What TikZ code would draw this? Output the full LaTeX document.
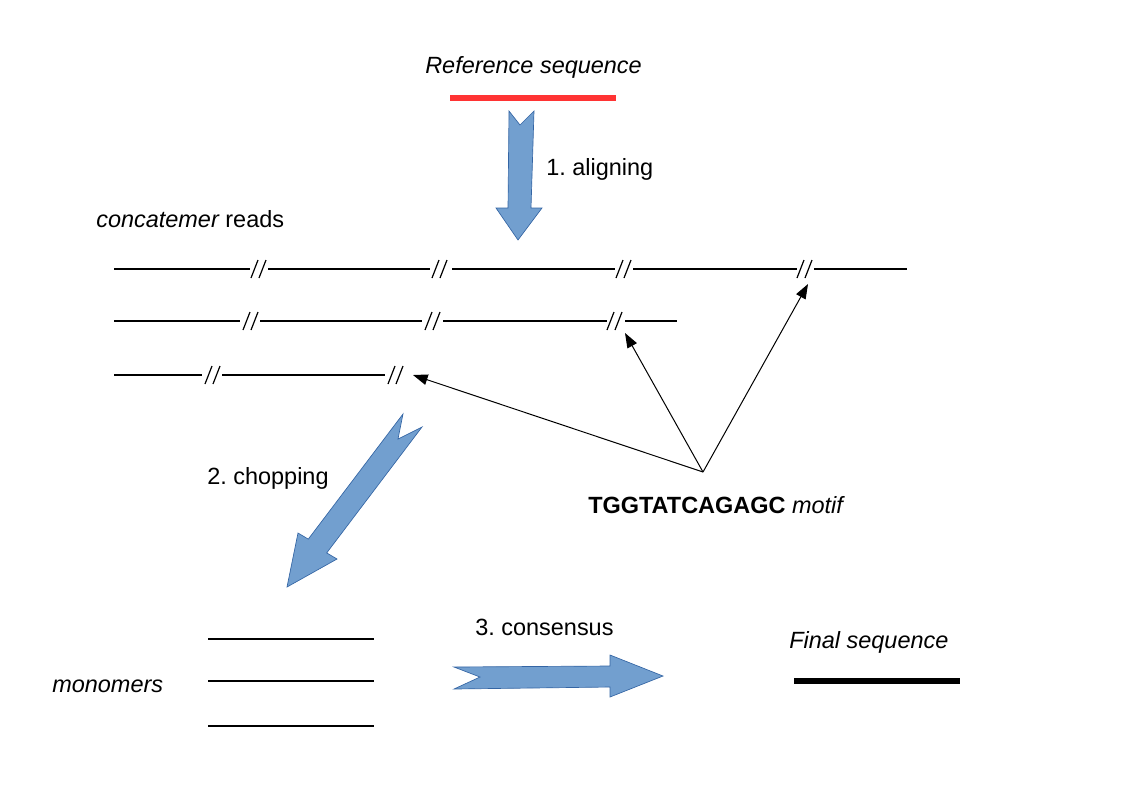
\documentclass[tikz,border=0pt]{standalone}
\usepackage{fontspec}
\setmainfont{Liberation Sans}
\usetikzlibrary{arrows.meta}

\definecolor{arrowblue}{RGB}{114,159,207}
\definecolor{arrowedge}{RGB}{52,101,164}
\definecolor{refred}{RGB}{255,51,51}

\tikzset{
	txt/.style={anchor=base west, inner sep=0pt, font=\fontsize{17.6}{21}\selectfont\frenchspacing},
	read/.style={line width=1.5pt},
	cut/.pic={
		\draw[line width=0.9pt] (-8,9) -- (-1,-9);
		\draw[line width=0.9pt] (0,9) -- (7,-9);
	},
	fat/.style={fill=arrowblue, draw=arrowedge, line width=0.5pt},
	pointer/.style={-{Triangle[length=11pt,width=8pt]}, line width=0.75pt}
}

\begin{document}
\begin{tikzpicture}[x=0.75pt, y=-0.75pt]
	\useasboundingbox (0,0) rectangle (1123,794);

	% Define nodes
	\node [txt] (ref) at (425,73) {\itshape Reference sequence};
	\node [txt] (align) at (546,175) {1. aligning};
	\node [txt] (reads) at (96,227) {\itshape concatemer\upshape\ reads};
	\node [txt] (chop) at (207,484) {2. chopping};
	\node [txt] (motif) at (588,513) {\bfseries TGGTATCAGAGC \mdseries\itshape motif};
	\node [txt] (cons) at (475,635) {3. consensus};
	\node [txt] (mono) at (52,692) {\itshape monomers};
	\node [txt] (final) at (789,648) {\itshape Final sequence};

	% Reference and final sequence
	\draw [refred, line width=5pt] (450,98) -- (616,98);
	\draw [line width=5pt] (794,681) -- (960,681);

	% Concatemer reads
	\draw [read] (114,269) -- (250,269);
	\draw [read] (268,269) -- (430,269);
	\draw [read] (452,269) -- (615,269);
	\draw [read] (633,269) -- (797,269);
	\draw [read] (814,269) -- (907,269);
	\pic at (259,269) {cut};
	\pic at (440,269) {cut};
	\pic at (624,269) {cut};
	\pic at (805,269) {cut};

	\draw [read] (114,321) -- (240,321);
	\draw [read] (260,321) -- (422,321);
	\draw [read] (443,321) -- (607,321);
	\draw [read] (625,321) -- (677,321);
	\pic at (251,321) {cut};
	\pic at (433,321) {cut};
	\pic at (615,321) {cut};

	\draw [read] (114,375) -- (202,375);
	\draw [read] (222,375) -- (385,375);
	\pic at (213,375) {cut};
	\pic at (396,375) {cut};

	% Monomers
	\draw [read] (208,639) -- (374,639);
	\draw [read] (208,681) -- (374,681);
	\draw [read] (208,726) -- (374,726);

	% Motif pointers
	\coordinate (m) at (703,472);
	\coordinate (k1) at (808,284);
	\coordinate (k2) at (625,333);
	\coordinate (k3) at (413,375);
	\draw [pointer] (m) -- (k1);
	\draw [pointer] (m) -- (k2);
	\draw [pointer] (m) -- (k3);

	% Block arrows
	\draw [fat] (509,111) -- (520,125) -- (534,111) -- (531,208) -- (542,208)
		-- (518,240) -- (496,208) -- (508,208) -- cycle;
	\draw [fat] (403,414) -- (398,439) -- (422,427) -- (326.7,552.9) -- (337,559)
		-- (287,587) -- (298,533) -- (308.3,539.1) -- cycle;
	\draw [fat] (454,667) -- (480,677) -- (454,689) -- (610,687) -- (610,697)
		-- (663,676) -- (610,655) -- (610,666) -- cycle;
\end{tikzpicture}
\end{document}
